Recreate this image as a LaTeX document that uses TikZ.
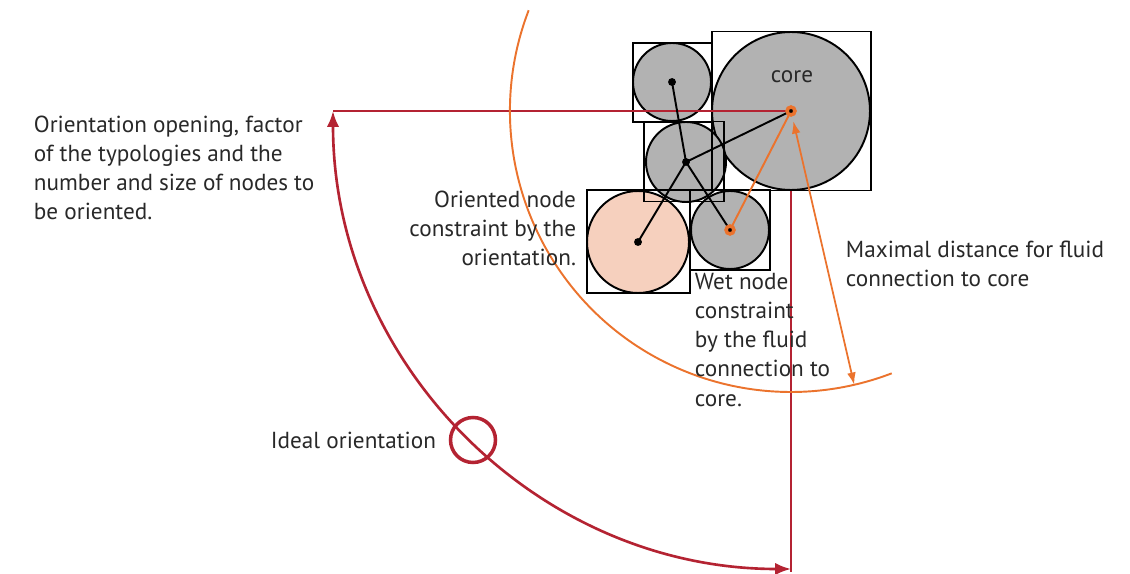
\documentclass[tikz,border=0pt]{standalone}
\usepackage{fontspec}
\setmainfont{PT Sans}
\usetikzlibrary{arrows.meta}
\definecolor{redC}{RGB}{180,35,50}
\definecolor{orangeC}{RGB}{235,115,45}
\definecolor{nodeC}{RGB}{178,178,178}
\definecolor{peachC}{RGB}{246,208,190}
\definecolor{txtC}{RGB}{40,40,40}

\begin{document}
\begin{tikzpicture}[x=0.02cm, y=0.02cm, line width=1.1pt,
  blob/.style={circle, draw=black, fill=nodeC, inner sep=0},
  cell/.style={rectangle, draw=black, inner sep=0},
  dot/.style={circle, fill=black, inner sep=0, minimum size=4.5pt},
  wetdot/.style={dot, draw=orangeC, line width=2pt},
  txt/.style={text=txtC, inner sep=0, font=\fontsize{13.2}{16.6}\selectfont}]
\useasboundingbox (0,0) rectangle (1130,-574);

% Orientation axes
\coordinate (openEnd) at (333,-111);
\coordinate (axisEnd) at (791,-572);
\draw[redC, line width=1pt] (791,-111) -- (axisEnd);

% Nodes and their cells
\node[blob, minimum size=3.16cm] (core) at (791,-111) {};
\node[blob, minimum size=1.56cm] (topN) at (672,-82) {};
\node[blob, fill=peachC, minimum size=2.04cm] (orientN) at (638,-242) {};
\node[blob, minimum size=1.6cm] (midN) at (686,-162) {};
\node[blob, minimum size=1.56cm] (wetN) at (730,-230) {};
\node[cell, minimum size=3.18cm] (coreBox) at (791.5,-111) {};
\node[cell, minimum size=1.58cm] (topBox) at (672.5,-82.5) {};
\node[cell, minimum size=1.6cm] (midBox) at (684,-161.5) {};
\node[cell, minimum size=2.06cm] (orientBox) at (638.5,-241.5) {};
\node[cell, minimum size=1.6cm] (wetBox) at (730,-230) {};

\draw[redC, line width=1pt] (openEnd) -- (core.center);

% Links
\draw (midN.center) -- (topN.center);
\draw (midN.center) -- (core.center);
\draw (midN.center) -- (orientN.center);
\draw (midN.center) -- (wetN.center);
\draw[orangeC] (wetN.center) -- (core.center);
\node[dot] at (topN.center) {};
\node[dot] at (midN.center) {};
\node[dot] at (orientN.center) {};
\node[wetdot] at (wetN.center) {};
\node[wetdot] at (core.center) {};

% Fluid reach
\draw[orangeC] (core.center) ++(159:281) arc[start angle=159, end angle=291, radius=281];
\path (core.center) ++(-77:281) coordinate (reach);
\draw[orangeC, line width=1pt, {Latex[length=7pt,width=5pt]}-{Latex[length=7pt,width=5pt]}, shorten <=6pt] (core.center) -- (reach);

% Orientation opening
\draw[redC, line width=1.5pt, {Latex[length=9pt,width=7pt]}-{Latex[length=9pt,width=7pt]}] (openEnd) arc[start angle=180, end angle=270, radius=458];
\node[circle, draw=redC, line width=2pt, minimum size=0.9cm, inner sep=0] (ideal) at (473,-440) {};

% Labels (base = last line)
\node[txt, anchor=base] (coreTxt) at (792,-83) {core};
\node[txt, anchor=base west, align=left] (openTxt) at (33,-220) {Orientation opening, factor\\of the typologies and the\\number and size of nodes to\\be oriented.};
\node[txt, anchor=base east, align=right] (orientTxt) at (577,-266) {Oriented node\\constraint by the\\orientation.};
\node[txt, anchor=base west, align=left] (wetTxt) at (694,-406) {Wet node\\constraint\\by the fluid\\connection to\\core.};
\node[txt, anchor=base west, align=left] (maxTxt) at (845,-287) {Maximal distance for fluid\\connection to core};
\node[txt, anchor=base west] (idealTxt) at (270,-448) {Ideal orientation};
\end{tikzpicture}
\end{document}
